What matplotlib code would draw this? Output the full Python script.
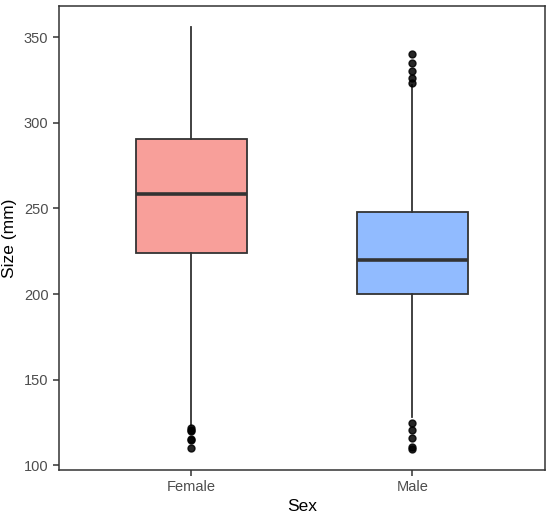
import numpy as np
import matplotlib
matplotlib.use("Agg")
import matplotlib.pyplot as plt

# ------------------------------------------------------------
#        Box statistics (mm)
# ------------------------------------------------------------

sexes = ["Female", "Male"]

q1 = [224.1, 200.2]
med = [258.7, 219.8]
q3 = [290.8, 248.2]
whislo = [123.5, 128.0]
whishi = [356.0, 322.0]

fliers_female = [121.6, 120.6, 119.8, 115.3, 114.8, 110.2]
fliers_male = [340.3, 335.2, 330.2, 326.0, 323.5, 124.9, 120.7, 115.9, 110.5, 109.5]

colors = ["#F89F9A", "#91BBFF"]

plt.rcParams['font.family'] = ['Liberation Sans', 'DejaVu Sans']

stats = []
for i, s in enumerate(sexes):
    stats.append({
        "label": s,
        "q1": q1[i],
        "med": med[i],
        "q3": q3[i],
        "whislo": whislo[i],
        "whishi": whishi[i],
        "fliers": [fliers_female, fliers_male][i],
    })

fig = plt.figure(figsize=(5.5, 5.14), dpi=100)
ax = fig.add_axes([0.107, 0.0856, 0.884, 0.9027])

edge = "#333333"
bp = ax.bxp(stats, positions=[1, 2], widths=0.5, patch_artist=True,
            showcaps=False,
            boxprops=dict(edgecolor=edge, linewidth=1.3),
            medianprops=dict(color=edge, linewidth=2.6),
            whiskerprops=dict(color=edge, linewidth=1.3),
            flierprops=dict(marker="o", markerfacecolor="black",
                            markeredgecolor="black", markersize=5, alpha=0.85))

for patch, c in zip(bp["boxes"], colors):
    patch.set_facecolor(c)

ax.set_xlim(0.4, 2.6)
ax.set_ylim(97.3, 368.2)
ax.set_yticks([100, 150, 200, 250, 300, 350])
ax.set_xticks([1, 2])
ax.set_xticklabels(sexes)

for sp in ax.spines.values():
    sp.set_color(edge)
    sp.set_linewidth(1.1)

ax.tick_params(axis="both", colors=edge, labelcolor="#4D4D4D",
               labelsize=10.5, length=4, width=1.1)

ax.set_xlabel("Sex", fontsize=12.5, labelpad=3)
ax.set_ylabel("Size (mm)", fontsize=12.5, labelpad=5)

fig.savefig("out.png", dpi=100)
